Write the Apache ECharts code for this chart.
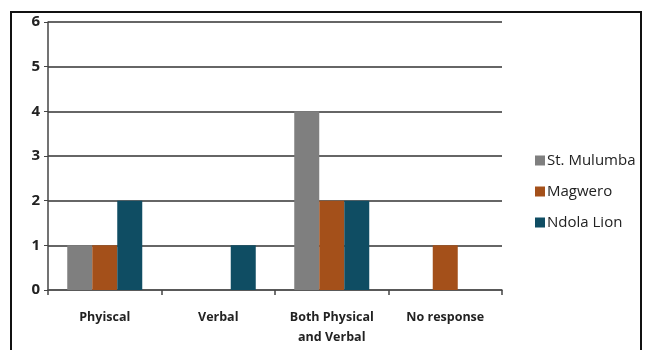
<!DOCTYPE html>
<html>
<head>
<meta charset="utf-8">
<script src="https://cdn.jsdelivr.net/npm/echarts@6/dist/echarts.min.js"></script>
<style>
  body { margin: 0; background: #fff; }
  #frame {
    position: absolute; left: 10px; top: 11px; width: 632px; height: 345px;
    border: 2px solid #111; box-sizing: border-box;
  }
  #chart { position: absolute; left: 0; top: 0; width: 648px; height: 350px; }
</style>
</head>
<body>
<div id="frame"></div>
<div id="chart"></div>
<script>
// categories and values
var categories = ['Phyiscal', 'Verbal', 'Both Physical\nand Verbal', 'No response']
var stMulumba = [1, 0, 4, 0]
var magwero = [1, 0, 2, 1]
var ndolaLion = [2, 1, 2, 0]
var seriesNames = ['St. Mulumba', 'Magwero', 'Ndola Lion']
var colors = ['#7f7f7f', '#a4501a', '#0f4d63']

var myChart = echarts.init(document.getElementById('chart'))
var font = '"Open Sans", sans-serif'

function makeSeries (name, data, i) {
  return {
    name: name,
    type: 'bar',
    data: data.map(function (v) { return v === 0 ? null : v }),
    barWidth: 25,
    barGap: '0%',
    itemStyle: { color: colors[i] }
  }
}

myChart.setOption({
  animation: false,
  color: colors,
  grid: { left: 48, right: 146, top: 22, bottom: 60 },
  legend: {
    orient: 'vertical',
    left: 530,
    top: 148,
    itemWidth: 10,
    itemHeight: 10,
    itemGap: 16,
    icon: 'rect',
    data: seriesNames,
    textStyle: { fontFamily: font, fontSize: 15, color: '#222', padding: [0, 0, 0, -3] }
  },
  xAxis: {
    type: 'category',
    data: categories,
    axisLine: { lineStyle: { color: '#555', width: 1.5 } },
    axisTick: { show: true, length: 5, lineStyle: { color: '#444', width: 1.5 } },
    axisLabel: {
      margin: 17,
      fontFamily: font,
      fontSize: 12.5,
      fontWeight: 'bold',
      color: '#222',
      lineHeight: 20,
      interval: 0
    }
  },
  yAxis: {
    type: 'value',
    min: 0,
    max: 6,
    interval: 1,
    axisLine: { show: true, lineStyle: { color: '#444', width: 1.5 } },
    axisTick: { show: true, length: 4, lineStyle: { color: '#444' } },
    axisLabel: {
      margin: 8,
      fontFamily: font,
      fontSize: 15,
      fontWeight: 'bold',
      color: '#222'
    },
    splitLine: { lineStyle: { color: '#333', width: 1.5 } }
  },
  series: [
    makeSeries(seriesNames[0], stMulumba, 0),
    makeSeries(seriesNames[1], magwero, 1),
    makeSeries(seriesNames[2], ndolaLion, 2)
  ]
})
</script>
</body>
</html>
